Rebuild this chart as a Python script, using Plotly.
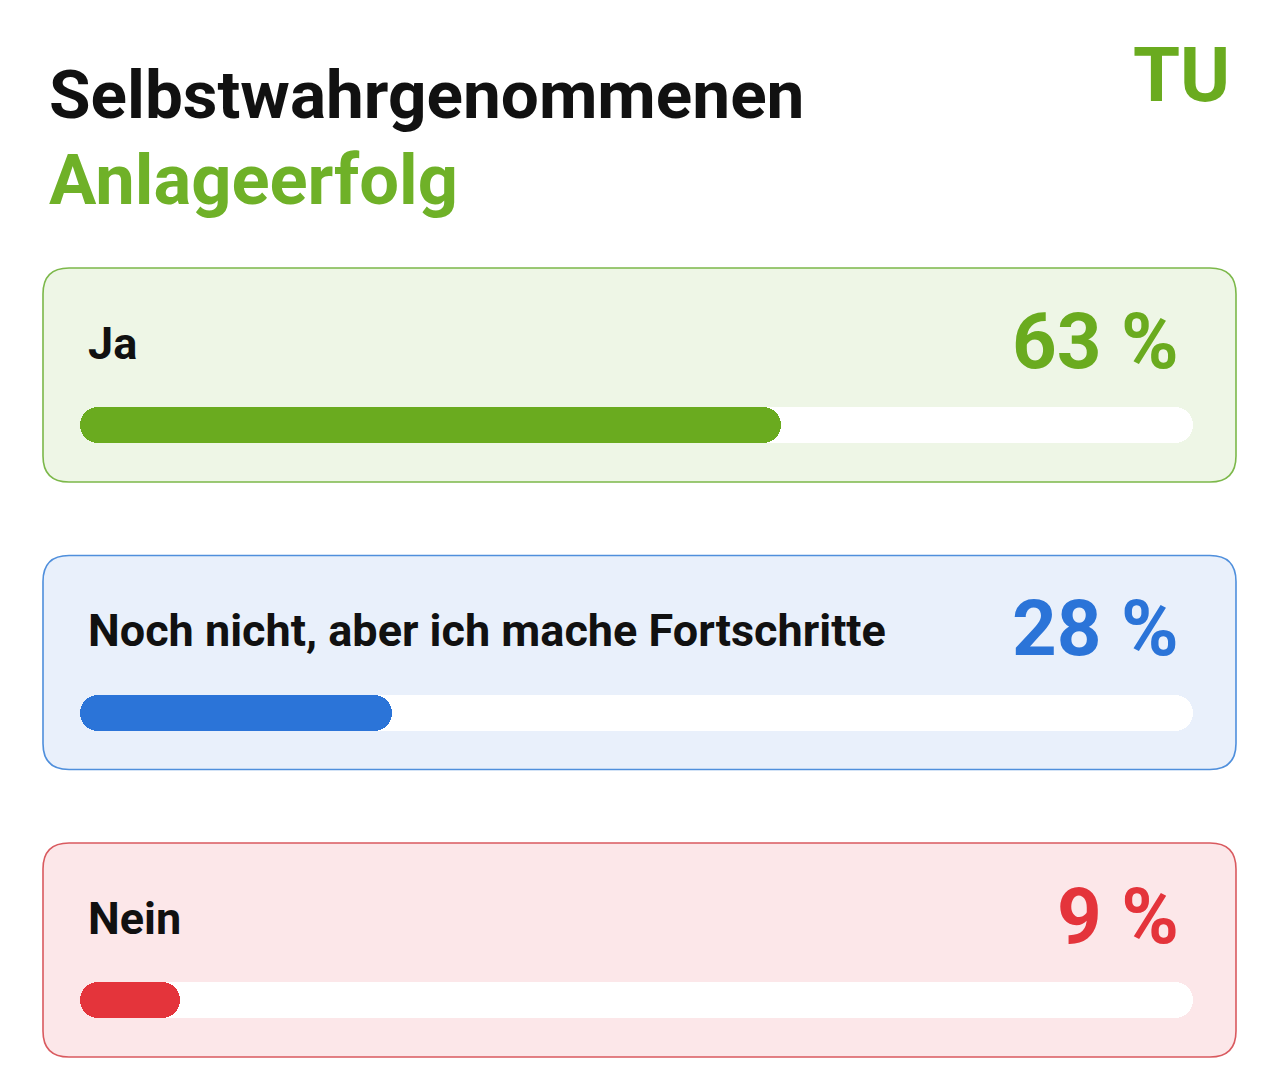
import plotly.graph_objects as go

# ---- data ----
categories = ["Ja", "Noch nicht, aber ich mache Fortschritte", "Nein"]
values = [63, 28, 9]
value_labels = ["63 %", "28 %", "9 %"]
scale_max = 100
title_line1 = "Selbstwahrgenommenen"
title_line2 = "Anlageerfolg"
logo_text = "TU"

# ---- styles ----
bar_colors = ["#6aab1f", "#2b74d8", "#e4343b"]
card_fills = ["#eef6e6", "#e9f0fb", "#fce7e9"]
card_borders = ["#7cb84a", "#4f8fdc", "#d95a5f"]
green_title = "#6fb128"

W, H = 1280, 1089
track_left, track_right = 80, 1193
px_per_unit = (track_right - track_left) / 100.0
bar_center0, bar_step = 425, 287.5
bar_thick = 36

x_range = [-track_left / px_per_unit, (W - track_left) / px_per_unit]
y_range = [(H - bar_center0) / bar_step, -bar_center0 / bar_step]

ypos = list(range(len(categories)))
bw = bar_thick / bar_step

fig = go.Figure()

# white tracks (explicit base -> both ends rounded)
fig.add_trace(go.Bar(
    x=[scale_max] * len(categories), base=[0] * len(categories), y=ypos, orientation="h",
    width=bw, marker=dict(color="white", line=dict(width=0)),
    hoverinfo="skip", showlegend=False))

# value bars
fig.add_trace(go.Bar(
    x=values, base=[0] * len(categories), y=ypos, orientation="h",
    width=bw, marker=dict(color=bar_colors, line=dict(width=0)),
    customdata=categories,
    hovertemplate="%{customdata}: %{x} %<extra></extra>", showlegend=False))


def rounded_rect(x0, y0, x1, y1, r):
    def P(x, y):
        return f"{x / W:.5f},{1 - y / H:.5f}"
    return (f"M {P(x0 + r, y0)} L {P(x1 - r, y0)} Q {P(x1, y0)} {P(x1, y0 + r)} "
            f"L {P(x1, y1 - r)} Q {P(x1, y1)} {P(x1 - r, y1)} "
            f"L {P(x0 + r, y1)} Q {P(x0, y1)} {P(x0, y1 - r)} "
            f"L {P(x0, y0 + r)} Q {P(x0, y0)} {P(x0 + r, y0)} Z")


shapes = []
for i in range(len(categories)):
    cy = bar_center0 + bar_step * i
    shapes.append(dict(
        type="path", xref="paper", yref="paper",
        path=rounded_rect(43, cy - 157, 1236, cy + 57, 26),
        fillcolor=card_fills[i], line=dict(color=card_borders[i], width=1.6),
        layer="below"))

annotations = []
for i, cat in enumerate(categories):
    annotations.append(dict(
        text=f"<b>{cat}</b>", x=86 / W, xref="paper", xanchor="left",
        y=ypos[i], yref="y", yanchor="middle", yshift=82, showarrow=False,
        font=dict(family="Roboto, sans-serif", size=45, color="#111111")))
    annotations.append(dict(
        text=f"<b>{value_labels[i]}</b>", x=1181 / W, xref="paper", xanchor="right",
        y=ypos[i], yref="y", yanchor="middle", yshift=84, showarrow=False,
        font=dict(family="Roboto, sans-serif", size=78, color=bar_colors[i])))

annotations.append(dict(
    text=f"<b>{title_line1}</b>", x=47 / W, xref="paper", xanchor="left",
    y=1 - 94 / H, yref="paper", yanchor="middle", showarrow=False,
    font=dict(family="Roboto, sans-serif", size=67.5, color="#111111")))
annotations.append(dict(
    text=f"<b>{title_line2}</b>", x=47 / W, xref="paper", xanchor="left",
    y=1 - 180 / H, yref="paper", yanchor="middle", showarrow=False,
    font=dict(family="Roboto, sans-serif", size=70.5, color=green_title)))
annotations.append(dict(
    text=f"<b>{logo_text}</b>", x=1232 / W, xref="paper", xanchor="right",
    y=1 - 75 / H, yref="paper", yanchor="middle", showarrow=False,
    font=dict(family="Roboto, sans-serif", size=76, color="#6aab1f")))

fig.update_layout(
    width=W, height=H, margin=dict(l=0, r=0, t=0, b=0),
    paper_bgcolor="white", plot_bgcolor="rgba(0,0,0,0)",
    barmode="overlay", barcornerradius=18, bargap=0,
    xaxis=dict(range=x_range, visible=False, fixedrange=True, domain=[0, 1]),
    yaxis=dict(range=y_range, visible=False, fixedrange=True, domain=[0, 1]),
    shapes=shapes, annotations=annotations, showlegend=False,
)

fig.write_html("out.html")
